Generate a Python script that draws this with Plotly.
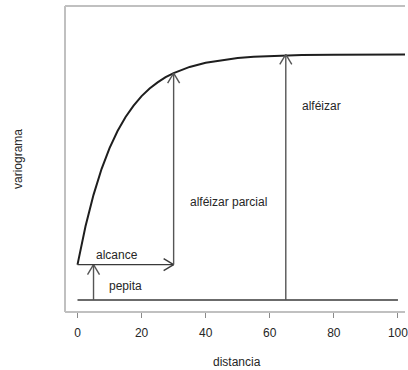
import plotly.graph_objects as go

# ---- data ----
distancia = [0, 2.5, 5, 7.5, 10, 12.5, 15, 17.5, 20, 22.5, 25, 27.5, 30, 35, 40, 45,
             50, 55, 60, 65, 70, 80, 90, 100, 104]
variograma = [0.144, 0.300, 0.428, 0.533, 0.618, 0.688, 0.745, 0.791, 0.830, 0.861,
              0.886, 0.907, 0.924, 0.949, 0.966, 0.977, 0.985, 0.990, 0.993, 0.995,
              0.997, 0.999, 1.0, 1.0, 1.0]
pepita = 0.144          # nugget
alfeizar = 1.0          # sill
alcance = 30            # range
alfeizar_parcial_top = 0.924
pepita_x = 5
alfeizar_x = 65
base_x = [0, 100]
xticks = [0, 20, 40, 60, 80, 100]
xtick_labels = ["0", "20", "40", "60", "80", "100"]

FONT = "Liberation Sans, Arial, sans-serif"
CURVE = "#1e1e1e"
ARROW = "#555555"
TEXT = "#262626"
BOX = "#c0c0c0"
FS = 12

fig = go.Figure()

# variogram curve
fig.add_trace(go.Scatter(x=distancia, y=variograma, mode="lines",
                         line=dict(color=CURVE, width=2), hoverinfo="skip"))

shapes = []

def seg(x0, y0, x1, y1, color=ARROW, width=1.4):
    shapes.append(dict(type="line", xref="x", yref="y", x0=x0, y0=y0, x1=x1, y1=y1,
                       line=dict(color=color, width=width)))

def head(xa, ya, direction, color=ARROW, width=1.4, back=10, side=6):
    # open V arrowhead at (xa, ya), sized in pixels
    if direction == "up":
        arms = [(-side, -back), (side, -back)]
    else:  # right
        arms = [(-back, side), (-back, -side)]
    for dx, dy in arms:
        shapes.append(dict(type="line", xref="x", yref="y",
                           xsizemode="pixel", ysizemode="pixel",
                           xanchor=xa, yanchor=ya,
                           x0=0, y0=0, x1=dx, y1=dy,
                           line=dict(color=color, width=width)))

# baseline
seg(base_x[0], 0, base_x[1], 0, color="#3a3a3a", width=1.4)
# pepita arrow
seg(pepita_x, 0, pepita_x, pepita)
head(pepita_x, pepita, "up")
# alcance arrow
seg(0, pepita, alcance, pepita, color="#3a3a3a")
head(alcance, pepita, "right", color="#3a3a3a")
# alfeizar parcial arrow
seg(alcance, pepita, alcance, alfeizar_parcial_top)
head(alcance, alfeizar_parcial_top, "up")
# alfeizar arrow
seg(alfeizar_x, 0, alfeizar_x, alfeizar)
head(alfeizar_x, alfeizar, "up")

# box (left, top, bottom; right side clipped)
shapes.append(dict(type="line", xref="paper", yref="paper", x0=0, x1=0, y0=0, y1=1,
                   line=dict(color=BOX, width=2)))
shapes.append(dict(type="line", xref="paper", yref="paper", x0=0, x1=1, y0=1, y1=1,
                   line=dict(color=BOX, width=2)))
shapes.append(dict(type="line", xref="paper", yref="paper", x0=0, x1=1, y0=0, y1=0,
                   line=dict(color=BOX, width=2)))

annotations = [
    dict(x=12.4, y=0.183, text="alcance"),
    dict(x=14.9, y=0.057, text="pepita"),
    dict(x=47.2, y=0.40, text="alféizar parcial"),
    dict(x=76.0, y=0.79, text="alféizar"),
]
for a in annotations:
    a.update(xref="x", yref="y", showarrow=False, xanchor="center", yanchor="middle",
             font=dict(family=FONT, size=FS, color=TEXT))

annotations.append(dict(xref="paper", yref="paper", x=0, y=0.5, xshift=-47,
                        text="variograma", textangle=-90, showarrow=False,
                        xanchor="center", yanchor="middle",
                        font=dict(family=FONT, size=FS, color=TEXT)))
annotations.append(dict(xref="paper", yref="paper", x=(239 - 65) / 343, y=0, yshift=-50,
                        text="distancia", showarrow=False,
                        xanchor="center", yanchor="middle",
                        font=dict(family=FONT, size=FS, color=TEXT)))

fig.update_layout(
    width=408, height=370,
    margin=dict(l=65, r=0, t=6, b=58),
    paper_bgcolor="white", plot_bgcolor="white",
    showlegend=False,
    shapes=shapes,
    annotations=annotations,
    xaxis=dict(range=[-3.9, 102.2], tickvals=xticks, ticktext=xtick_labels,
               ticks="outside", ticklen=5, tickcolor="#8a8a8a", tickwidth=1.2,
               showgrid=False, zeroline=False, showline=False,
               ticklabelstandoff=5, ticklabeloverflow="allow",
               tickfont=dict(family=FONT, size=FS, color=TEXT)),
    yaxis=dict(range=[-0.049, 1.197], showticklabels=False, ticks="",
               showgrid=False, zeroline=False, showline=False),
)

fig.write_html("out.html")
